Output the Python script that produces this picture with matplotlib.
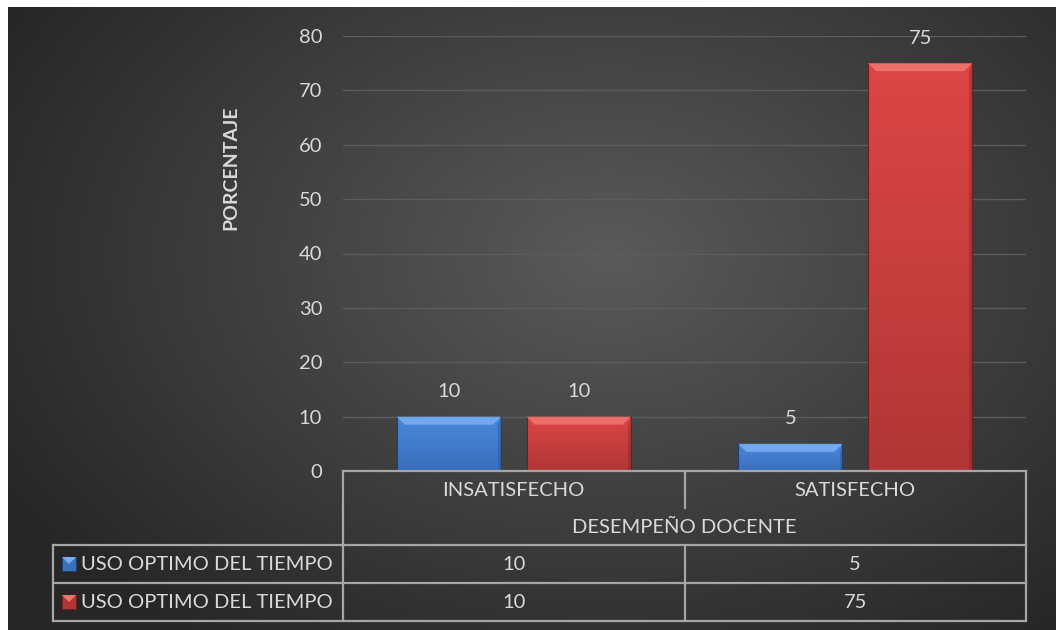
import numpy as np
import matplotlib
matplotlib.use("Agg")
import matplotlib.pyplot as plt
from matplotlib.patches import Polygon, Rectangle
from matplotlib.colors import to_rgb

plt.rcParams['font.family'] = ['Lato', 'DejaVu Sans']

# ---------------- datos ----------------
categorias = ["INSATISFECHO", "SATISFECHO"]
serie_azul = [10, 5]
serie_roja = [10, 75]
nombres_series = ["USO OPTIMO DEL TIEMPO", "USO OPTIMO DEL TIEMPO"]
titulo_x = "DESEMPEÑO DOCENTE"
titulo_y = "PORCENTAJE"
ticks_y = [0, 10, 20, 30, 40, 50, 60, 70, 80]

txt_col = "#d9d9d9"
line_col = "#a6a6a6"
fs = 14.5
azul = dict(top="#4a88dc", bot="#3a70bc", bevel="#78aef2", edge="#1d3f73")
rojo = dict(top="#dc4646", bot="#b23636", bevel="#f07470", edge="#6e1e1e")

W, H = 1056, 630
fig = plt.figure(figsize=(W / 100, H / 100), dpi=100)
fig.patch.set_facecolor("white")

# ---------------- fondo con degradado radial ----------------
bg = fig.add_axes([8 / W, 0, (W - 8) / W, (H - 7) / H], zorder=0)
yy, xx = np.mgrid[0:623, 0:1048]
r = np.sqrt(((xx - 600) / 700.0) ** 2 + ((yy - 250) / 480.0) ** 2)
r = np.clip(r, 0, 1)
c0 = np.array(to_rgb("#5a5a5a"))
c1 = np.array(to_rgb("#262626"))
img = c0[None, None, :] + (c1 - c0)[None, None, :] * r[..., None]
bg.imshow(img, aspect="auto", interpolation="bilinear")
bg.axis("off")

# ---------------- area de grafico ----------------
px_l, px_r, px_t, px_b = 343, 1026, 36, 471
ax = fig.add_axes([px_l / W, 1 - px_b / H, (px_r - px_l) / W, (px_b - px_t) / H], zorder=1)
ax.set_facecolor("none")
ax.set_xlim(-0.5, len(categorias) - 0.5)
ax.set_ylim(0, 80)
ax.set_yticks(ticks_y)
ax.set_xticks([])
ax.tick_params(axis="y", length=0, pad=15, labelsize=fs, labelcolor=txt_col)
for s in ax.spines.values():
    s.set_visible(False)
ax.yaxis.grid(True, color="#5c5c5c", lw=1)
ax.set_axisbelow(True)

ancho = 0.305
desp = 0.19
bx = 8 * 2 / (px_r - px_l)
by = 8 * 80 / (px_b - px_t)


def barra(x, h, c):
    x0, x1 = x - ancho / 2, x + ancho / 2
    rect = ax.bar(x, h, width=ancho, color="none", edgecolor=c["edge"], lw=0.8, zorder=3)[0]
    grad = np.linspace(0, 1, 100)[:, None]
    ct, cb = np.array(to_rgb(c["top"])), np.array(to_rgb(c["bot"]))
    g = ct[None, None, :] + (cb - ct)[None, None, :] * grad[..., None]
    im = ax.imshow(g, extent=[x0, x1, 0, h], aspect="auto", zorder=2, origin="upper")
    im.set_clip_path(rect)
    bev = min(by, h * 0.4)
    ax.add_patch(Polygon([(x0, h), (x1, h), (x1 - bx, h - bev), (x0 + bx, h - bev)],
                         closed=True, color=c["bevel"], lw=0, zorder=3, alpha=0.9))
    ax.add_patch(Polygon([(x1, h), (x1, 0), (x1 - bx * 0.35, 0), (x1 - bx * 0.35, h - bev)],
                         closed=True, color=c["edge"], lw=0, zorder=3, alpha=0.3))
    ax.text(x, h + 3.0, str(h), ha="center", va="bottom", fontsize=fs, color=txt_col, zorder=4)


for i in range(len(categorias)):
    barra(i - desp, serie_azul[i], azul)
    barra(i + desp, serie_roja[i], rojo)

ax.set_xlim(-0.5, len(categorias) - 0.5)
ax.set_ylim(0, 80)

# titulo eje y
fig.text(231 / W, 1 - 168 / H, titulo_y, rotation=90, ha="center", va="center",
         fontsize=14, fontweight="bold", color=txt_col)

# ---------------- tabla de datos ----------------
ov = fig.add_axes([0, 0, 1, 1], zorder=2)
ov.set_xlim(0, W)
ov.set_ylim(H, 0)
ov.axis("off")

col_w = (px_r - px_l) / len(categorias)
y_fila = [545, 583, 621]
lw = 1.6

ov.plot([px_l, px_r], [px_b, px_b], color=line_col, lw=lw)
for yv in y_fila:
    ov.plot([53, px_r], [yv, yv], color=line_col, lw=lw)
ov.plot([53, 53], [545, 621], color=line_col, lw=lw)
ov.plot([px_l, px_l], [px_b, 621], color=line_col, lw=lw)
ov.plot([px_r, px_r], [px_b, 621], color=line_col, lw=lw)
for i in range(1, len(categorias)):
    xd = px_l + i * col_w
    ov.plot([xd, xd], [px_b, 508], color=line_col, lw=lw)
    ov.plot([xd, xd], [545, 621], color=line_col, lw=lw)

for i, cat in enumerate(categorias):
    xc = px_l + (i + 0.5) * col_w
    ov.text(xc, 490, cat, ha="center", va="center", fontsize=fs, color=txt_col)
    ov.text(xc, 564, str(serie_azul[i]), ha="center", va="center", fontsize=fs, color=txt_col)
    ov.text(xc, 602, str(serie_roja[i]), ha="center", va="center", fontsize=fs, color=txt_col)

ov.text((px_l + px_r) / 2, 527, titulo_x, ha="center", va="center", fontsize=fs, color=txt_col)

for k, (nombre, c) in enumerate(zip(nombres_series, [azul, rojo])):
    yc = 564 + k * 38
    ov.add_patch(Rectangle((62, yc - 7), 14, 14, facecolor=c["bot"], edgecolor=c["edge"], lw=0.6))
    ov.add_patch(Polygon([(62, yc - 7), (76, yc - 7), (69, yc)], closed=True, color=c["bevel"], lw=0))
    ov.text(81, yc, nombre, ha="left", va="center", fontsize=fs, color=txt_col)

fig.savefig("out.png", dpi=100, facecolor=fig.get_facecolor())
